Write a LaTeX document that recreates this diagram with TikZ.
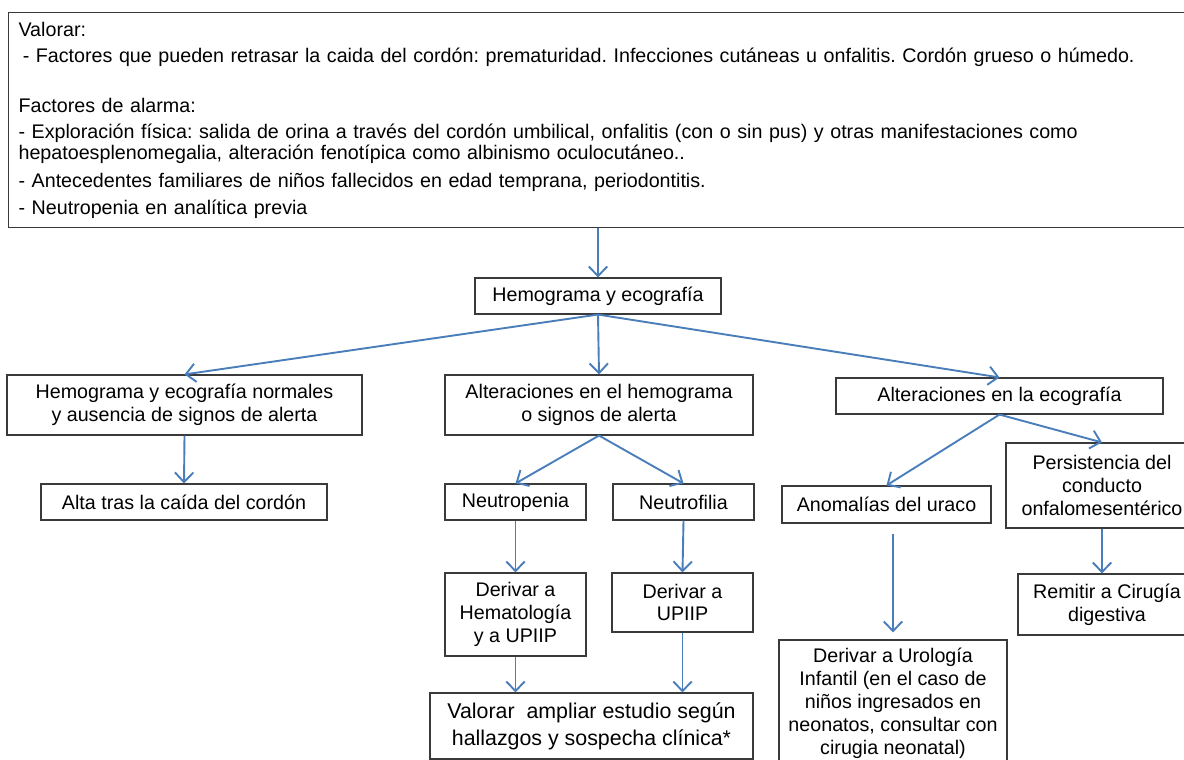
\documentclass[tikz,border=0pt]{standalone}
\usepackage{fontspec}
\setmainfont{Liberation Sans}
\usetikzlibrary{positioning,arrows.meta,calc}
\definecolor{arrblue}{HTML}{4A7EBB}
\definecolor{boxline}{HTML}{3A3A3A}
\frenchspacing

\begin{document}
\begin{tikzpicture}[
  x=0.025cm, y=-0.025cm,
  font=\fontsize{14}{16.3}\selectfont,
  box/.style={draw=boxline, line width=0.8pt, align=center, inner sep=0pt},
  arr/.style={-{Straight Barb[length=2.4mm,width=4.6mm]}, line width=1.35pt, arrblue},
]
\clip (0,0) rectangle (1184,760);
\fill[white] (0,0) rectangle (1184,760);
% cuadro superior
\node[box, anchor=north west, align=left, inner xsep=2.5mm, text width=292.5mm,
  minimum width=297.5mm, minimum height=53.75mm, font=\fontsize{14}{15}\selectfont] (valorar) at (8,12)
  {Valorar:\\[3.5pt]
   \hspace{3pt}- Factores que pueden retrasar la caida del cordón: prematuridad. Infecciones cutáneas u onfalitis. Cordón grueso o húmedo.\\[20.6pt]
   Factores de alarma:\\[3.5pt]
   - Exploración física: salida de orina a través del cordón umbilical, onfalitis (con o sin pus) y otras manifestaciones como\\
   hepatoesplenomegalia, alteración fenotípica como albinismo oculocutáneo..\\[4.9pt]
   - Antecedentes familiares de niños fallecidos en edad temprana, periodontitis.\\[4.2pt]
   - Neutropenia en analítica previa};
% primer nivel
\node[box, minimum width=61.5mm, minimum height=9mm] (hemo) at (598,296) {Hemograma y ecografía};
\node[box, minimum width=88.75mm, minimum height=15mm] (normal) at (184.5,405) {Hemograma y ecografía normales\\y ausencia de signos de alerta};
\node[box, minimum width=77mm, minimum height=15mm] (alter) at (599,405) {Alteraciones en el hemograma\\o signos de alerta};
\node[box, minimum width=81.75mm, minimum height=9mm] (ecoalt) at (999.5,396) {Alteraciones en la ecografía};
% rama izquierda
\node[box, minimum width=71.5mm, minimum height=9mm] (alta) at (184,502) {Alta tras la caída del cordón};
% rama central
\node[box, minimum width=35.25mm, minimum height=9mm] (neupenia) at (515.5,502) {Neutropenia};
\node[box, minimum width=35.25mm, minimum height=9mm] (neufilia) at (683.5,502) {Neutrofilia};
\node[box, minimum width=35.25mm, minimum height=20.75mm] (derhema) at (515.5,614.5) {Derivar a\\Hematología\\y a UPIIP};
\node[box, minimum width=35.25mm, minimum height=14.75mm] (derupiip) at (682.5,602.5) {Derivar a\\UPIIP};
\node[box, minimum width=80.75mm, minimum height=16.5mm, font=\fontsize{15.2}{19.2}\selectfont] (estudio) at (591.5,726) {Valorar\ \ ampliar estudio según\\hallazgos y sospecha clínica*};
% rama derecha
\node[box, minimum width=52.25mm, minimum height=9.25mm] (uraco) at (886.5,504.5) {Anomalías del uraco};
\node[box, minimum width=48mm, minimum height=21.25mm] (persist) at (1102,485.5) {Persistencia del\\conducto\\onfalomesentérico};
\node[box, minimum width=44.5mm, minimum height=15.25mm] (cirugia) at (1107,604.5) {Remitir a Cirugía\\digestiva};
\node[box, minimum width=57mm, minimum height=31.5mm] (urologia) at (893,703) {Derivar a Urología\\Infantil (en el caso de\\niños ingresados en\\neonatos, consultar con\\cirugia neonatal)};
% flechas
\draw[arr] (valorar.south -| hemo.north) -- (hemo.north);
\draw[arr] (hemo.south) -- (normal.north);
\draw[arr] (hemo.south) -- (alter.north);
\draw[arr] (hemo.south) -- (ecoalt.north);
\draw[arr] (normal.south) -- (alta.north);
\draw[arr] (alter.south) -- (neupenia.north);
\draw[arr] (alter.south) -- (neufilia.north);
\draw[arr] (neupenia.south) -- (derhema.north);
\draw[arr] (neufilia.south) -- (derupiip.north);
\draw[arr] (derhema.south) -- (derhema.south |- estudio.north);
\draw[arr] (derupiip.south) -- (derupiip.south |- estudio.north);
\draw[arr] (ecoalt.south) -- (uraco.north);
\draw[arr] (ecoalt.south) -- (persist.north);
\draw[arr, shorten <=2.5mm, shorten >=1.75mm] (uraco.south -| urologia.north) -- (urologia.north);
\draw[arr] (persist.south) -- (persist.south |- cirugia.north);
\end{tikzpicture}
\end{document}
